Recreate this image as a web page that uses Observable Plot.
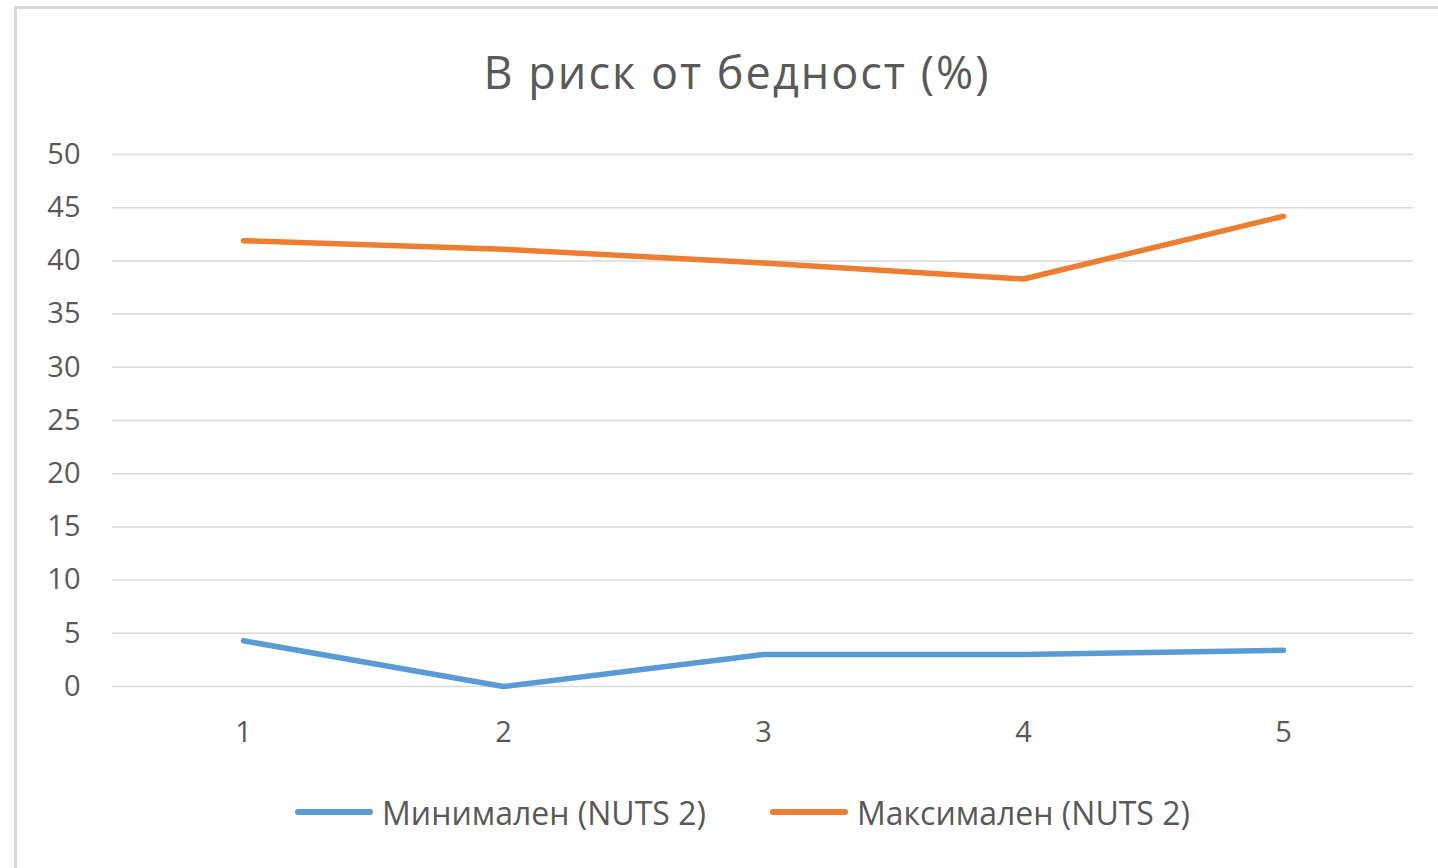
<!DOCTYPE html>
<html>
<head>
<meta charset="utf-8">
<script src="https://cdn.jsdelivr.net/npm/d3@7"></script>
<script src="https://cdn.jsdelivr.net/npm/@observablehq/plot@0.6"></script>
<style>
  html, body { margin: 0; padding: 0; background: #fff; overflow: hidden; }
  body { width: 1438px; height: 868px; position: relative; font-family: "Open Sans", "Noto Sans", sans-serif; }
  #frame { position: absolute; left: 14px; top: 6px; width: 1440px; height: 880px; border: 3px solid #d9d9d9; box-sizing: border-box; }
  #title { position: absolute; left: 18px; width: 1438px; top: 40px; text-align: center; font-size: 45px; letter-spacing: 2px; color: #595959; line-height: 64px; }
  #chart { position: absolute; left: 0; top: 110px; }
  #legend { position: absolute; top: 788px; left: 0; width: 1438px; height: 48px; }
  .item { position: absolute; display: flex; align-items: center; height: 48px; font-size: 32px; color: #595959; }
  .swatch { width: 78px; height: 6px; border-radius: 3px; margin-right: 9px; }
  .label { display: inline-block; }
</style>
</head>
<body>
<div id="frame"></div>
<div id="title">В риск от бедност (%)</div>
<div id="chart"></div>
<div id="legend"></div>
<script>
const categories = ["1", "2", "3", "4", "5"];
const minValues = [4.3, 0, 3.0, 3.0, 3.4];
const maxValues = [41.9, 41.1, 39.8, 38.3, 44.2];
const seriesNames = ["Минимален (NUTS 2)", "Максимален (NUTS 2)"];
const seriesColors = ["#5b9bd5", "#ed7d31"];
const yTicks = [0, 5, 10, 15, 20, 25, 30, 35, 40, 45, 50];

const data = [
  ...categories.map((c, i) => ({x: c, y: minValues[i], s: seriesNames[0]})),
  ...categories.map((c, i) => ({x: c, y: maxValues[i], s: seriesNames[1]}))
];

const plot = Plot.plot({
  width: 1438,
  height: 660,
  marginLeft: 112,
  marginRight: 25,
  marginTop: 44,
  marginBottom: 84,
  style: {fontFamily: "'Open Sans', 'Noto Sans', sans-serif", color: "#595959", background: "transparent"},
  x: {type: "point", domain: categories, padding: 0.5, label: null},
  y: {domain: [0, 50], label: null},
  color: {domain: seriesNames, range: seriesColors},
  marks: [
    Plot.gridY(yTicks, {stroke: "#d9d9d9", strokeOpacity: 1, strokeWidth: 1.5}),
    Plot.axisY(yTicks, {tickSize: 0, tickPadding: 32, fontSize: 29, fill: "#595959", label: null}),
    Plot.axisX(categories, {tickSize: 0, tickPadding: 35, fontSize: 29, fill: "#595959", label: null}),
    Plot.line(data, {x: "x", y: "y", z: "s", stroke: "s", strokeWidth: 5.5, strokeLinecap: "round", strokeLinejoin: "round"})
  ]
});
document.getElementById("chart").appendChild(plot);

const legend = document.getElementById("legend");
const lefts = [295, 770];
seriesNames.forEach((name, i) => {
  const item = document.createElement("div");
  item.className = "item";
  item.style.left = lefts[i] + "px";
  const sw = document.createElement("div");
  sw.className = "swatch";
  sw.style.background = seriesColors[i];
  const lb = document.createElement("span");
  lb.className = "label";
  lb.textContent = name;
  item.appendChild(sw);
  item.appendChild(lb);
  legend.appendChild(item);
});
</script>
</body>
</html>
